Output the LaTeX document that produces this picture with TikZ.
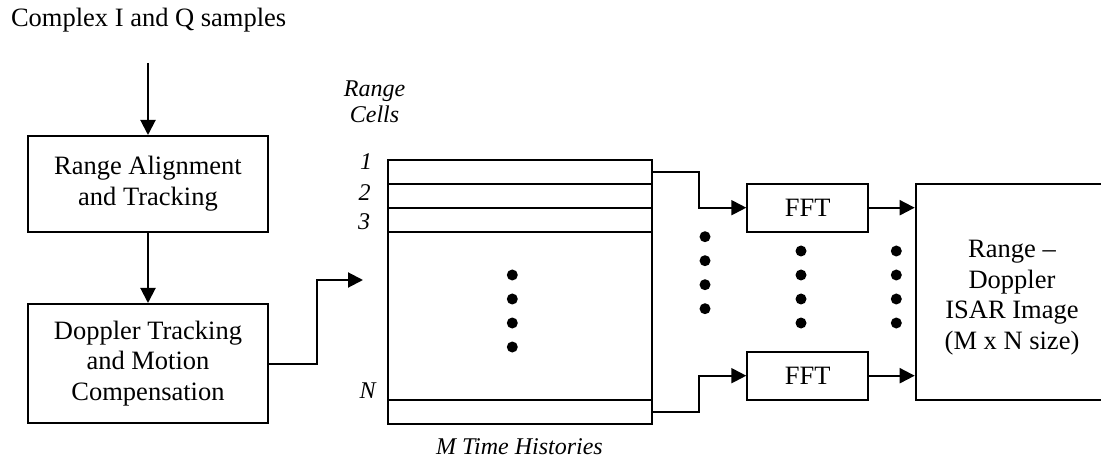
\documentclass[tikz,border=0pt]{standalone}
\usepackage{fontspec}
\setmainfont{Liberation Serif}
\usetikzlibrary{arrows.meta,calc}
\begin{document}
\begin{tikzpicture}[x=0.5pt,y=-0.5pt,
  line width=1pt,
  every node/.style={font=\fontsize{13.25}{15.25}\selectfont},
  blk/.style={draw, rectangle, inner sep=0pt, align=center},
  arr/.style={-{Triangle[length=7.5pt,width=7.5pt]}},
  lbl/.style={font=\fontsize{12}{13}\selectfont\itshape, inner sep=0pt},
  dotmark/.style={fill=black}]
\useasboundingbox (0,0) rectangle (1101,459);

% processing chain on the left
\node[anchor=base west, inner sep=0pt] (cplx) at (10,26.7) {Complex I and Q samples};
\coordinate (src) at (148,63);
\node[blk, minimum width=120.3pt, minimum height=47.85pt] (ral) at (148,183.85)
  {Range Alignment\\and Tracking};
\node[blk, minimum width=120.3pt, minimum height=59.5pt] (dtm) at (148,363.5)
  {Doppler Tracking\\and Motion\\Compensation};
\draw[arr] (src) -- (ral.north);
\draw[arr] (ral.south) -- (dtm.north);
\coordinate (matin) at (363,280);
\draw[arr] (dtm.east) -- ++(47.4,0) |- (matin);

% data matrix of range cells
\node[draw, inner sep=0pt, minimum width=132.3pt, minimum height=132pt] (mat) at (520,292) {};
\draw (387.7,183.7) -- (652.3,183.7);
\draw (387.7,207.7) -- (652.3,207.7);
\draw (387.7,231.7) -- (652.3,231.7);
\draw (387.7,399.7) -- (652.3,399.7);
\node[lbl, align=center] (rc) at (374.5,102) {Range\\Cells};
\node[lbl] (c1) at (366,162) {1};
\node[lbl] (c2) at (364.5,192.5) {2};
\node[lbl] (c3) at (364,222) {3};
\node[lbl] (cn) at (367.5,391) {N};
\node[lbl, anchor=base] (mth) at (519.5,454) {M Time Histories};
\foreach \y in {275,299,323,347} \fill[dotmark] (512.3,\y) circle[radius=2.75pt];

% FFT stage
\node[blk, minimum width=60.5pt, minimum height=24pt] (fft1) at (807.8,207.7) {FFT};
\node[blk, minimum width=60.5pt, minimum height=24pt] (fft2) at (807.8,375.7) {FFT};
\coordinate (r1) at (652.3,171.85);
\coordinate (rn) at (652.3,411.85);
\draw[arr] (r1) -- ++(47,0) |- (fft1.west);
\draw[arr] (rn) -- ++(47,0) |- (fft2.west);
\foreach \y in {236.7,260.7,284.7,308.7} \fill[dotmark] (705,\y) circle[radius=2.75pt];
\foreach \y in {251,275,299,323} \fill[dotmark] (801,\y) circle[radius=2.75pt];
\foreach \y in {251,275,299,323} \fill[dotmark] (896.3,\y) circle[radius=2.75pt];

% output image
\node[draw, inner sep=0pt, minimum width=112.15pt, minimum height=108pt] (img) at (1027.85,291.7) {};
\node[align=center, inner sep=0pt] (imgtxt) at (1012,297.7)
  {Range –\\Doppler\\ISAR Image\\(M x N size)};
\draw[arr] (fft1.east) -- (fft1.east -| img.west);
\draw[arr] (fft2.east) -- (fft2.east -| img.west);
\end{tikzpicture}
\end{document}
